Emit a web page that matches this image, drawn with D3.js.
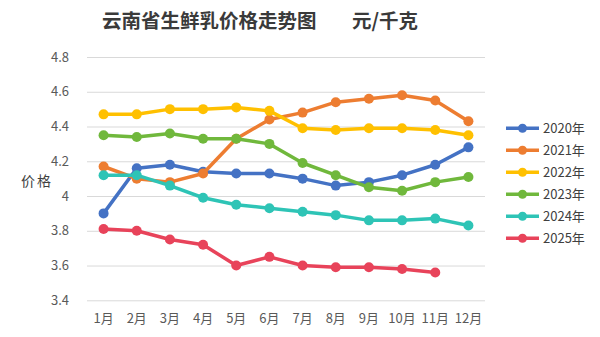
<!DOCTYPE html>
<html>
<head>
<meta charset="utf-8">
<script src="https://cdn.jsdelivr.net/npm/d3@7"></script>
<style>
  html, body { margin: 0; padding: 0; background: #fff; }
  svg { display: block; }
</style>
</head>
<body>
<svg id="chart" width="600" height="337"></svg>
<script>
// Monthly raw milk prices, Yunnan (yuan / kg)
const months = ["1月","2月","3月","4月","5月","6月","7月","8月","9月","10月","11月","12月"];
const seriesNames = ["2020年","2021年","2022年","2023年","2024年","2025年"];
const seriesColors = ["#4472C4","#ED7D31","#FFC000","#70B83C","#2EC4B6","#E8435A"];
const v2020 = [3.90,4.16,4.18,4.14,4.13,4.13,4.10,4.06,4.08,4.12,4.18,4.28];
const v2021 = [4.17,4.10,4.08,4.13,4.33,4.44,4.48,4.54,4.56,4.58,4.55,4.43];
const v2022 = [4.47,4.47,4.50,4.50,4.51,4.49,4.39,4.38,4.39,4.39,4.38,4.35];
const v2023 = [4.35,4.34,4.36,4.33,4.33,4.30,4.19,4.12,4.05,4.03,4.08,4.11];
const v2024 = [4.12,4.12,4.06,3.99,3.95,3.93,3.91,3.89,3.86,3.86,3.87,3.83];
const v2025 = [3.81,3.80,3.75,3.72,3.60,3.65,3.60,3.59,3.59,3.58,3.56];
const yTicks = [3.4,3.6,3.8,4,4.2,4.4,4.6,4.8];

const seriesValues = [v2020, v2021, v2022, v2023, v2024, v2025];
const series = seriesNames.map((name, i) => ({
  name, color: seriesColors[i],
  points: seriesValues[i].map((v, j) => ({ m: months[j], v }))
}));

const svg = d3.select("#chart");
const font = "'Noto Sans CJK SC', 'Noto Sans', sans-serif";

const x = d3.scaleBand().domain(months).range([87, 485]);
const y = d3.scaleLinear().domain([3.4, 4.8]).range([300.3, 57]);
const cx = d => x(d.m) + x.bandwidth() / 2;

// Title
svg.append("text")
  .attr("x", 260).attr("y", 28)
  .attr("text-anchor", "middle")
  .attr("font-family", font)
  .attr("font-size", 19.5)
  .attr("font-weight", 700)
  .attr("fill", "#3a3a3a")
  .attr("xml:space", "preserve")
  .style("white-space", "pre")
  .text("云南省生鲜乳价格走势图        元/千克");

// Gridlines + y labels
const yAxis = d3.axisLeft(y).tickValues(yTicks).tickSize(-(485 - 87))
  .tickFormat(d => d3.format("")(+d.toFixed(1)));
const gy = svg.append("g").attr("transform", "translate(87,0)").call(yAxis);
gy.select(".domain").remove();
gy.selectAll(".tick line").attr("stroke", "#d9d9d9").attr("stroke-width", 1);
gy.selectAll(".tick text")
  .attr("x", -18)
  .attr("font-family", font).attr("font-size", 13).attr("fill", "#595959");

// x labels
const xAxis = d3.axisBottom(x).tickSize(0).tickPadding(13);
const gx = svg.append("g").attr("transform", "translate(0,300.3)").call(xAxis);
gx.select(".domain").remove();
gx.selectAll(".tick text")
  .attr("font-family", font).attr("font-size", 13).attr("fill", "#595959");

// y axis title
svg.append("text")
  .attr("x", 37).attr("y", 186)
  .attr("text-anchor", "middle")
  .attr("font-family", font).attr("font-size", 14).attr("fill", "#404040")
  .attr("letter-spacing", 2)
  .text("价格");

// Lines and markers
const line = d3.line().x(cx).y(d => y(d.v));
const g = svg.append("g");
series.forEach(s => {
  g.append("path")
    .datum(s.points)
    .attr("d", line)
    .attr("fill", "none")
    .attr("stroke", s.color)
    .attr("stroke-width", 3.5)
    .attr("stroke-linejoin", "round");
  g.selectAll(null).data(s.points).enter().append("circle")
    .attr("cx", cx).attr("cy", d => y(d.v))
    .attr("r", 5)
    .attr("fill", s.color);
});

// Legend
const leg = svg.append("g");
const ly = d3.scalePoint().domain(seriesNames).range([128.3, 238.3]);
series.forEach(s => {
  const row = leg.append("g").attr("transform", `translate(0,${ly(s.name)})`);
  row.append("line").attr("x1", 506).attr("x2", 539)
    .attr("stroke", s.color).attr("stroke-width", 3.5);
  row.append("circle").attr("cx", 522.5).attr("cy", 0).attr("r", 4.5).attr("fill", s.color);
  row.append("text").attr("x", 543).attr("y", 4.5)
    .attr("font-family", font).attr("font-size", 13).attr("fill", "#404040")
    .text(s.name);
});
</script>
</body>
</html>
